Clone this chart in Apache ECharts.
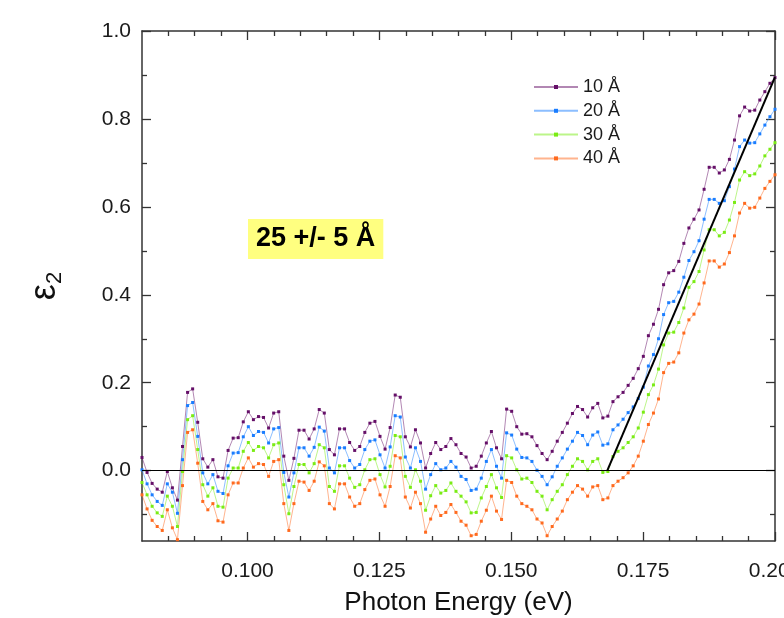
<!DOCTYPE html>
<html>
<head>
<meta charset="utf-8">
<title>eps2 vs photon energy</title>
<script src="https://cdn.jsdelivr.net/npm/echarts@6/dist/echarts.min.js"></script>
<style>html,body{margin:0;padding:0;background:#fff;}</style>
</head>
<body>
<div id="chart" style="width:784px;height:618px;"></div>
<script>
// photon energy grid (eV)
var energy = [
    0.08000, 0.08096, 0.08192, 0.08288, 0.08384, 0.08480, 0.08576, 0.08672, 0.08768, 0.08864,
    0.08960, 0.09056, 0.09152, 0.09248, 0.09344, 0.09440, 0.09536, 0.09632, 0.09728, 0.09824,
    0.09920, 0.10016, 0.10112, 0.10208, 0.10304, 0.10400, 0.10496, 0.10592, 0.10688, 0.10784,
    0.10880, 0.10976, 0.11072, 0.11168, 0.11264, 0.11360, 0.11456, 0.11552, 0.11648, 0.11744,
    0.11840, 0.11936, 0.12032, 0.12128, 0.12224, 0.12320, 0.12416, 0.12512, 0.12608, 0.12704,
    0.12800, 0.12896, 0.12992, 0.13088, 0.13184, 0.13280, 0.13376, 0.13472, 0.13568, 0.13664,
    0.13760, 0.13856, 0.13952, 0.14048, 0.14144, 0.14240, 0.14336, 0.14432, 0.14528, 0.14624,
    0.14720, 0.14816, 0.14912, 0.15008, 0.15104, 0.15200, 0.15296, 0.15392, 0.15488, 0.15584,
    0.15680, 0.15776, 0.15872, 0.15968, 0.16064, 0.16160, 0.16256, 0.16352, 0.16448, 0.16544,
    0.16640, 0.16736, 0.16832, 0.16928, 0.17024, 0.17120, 0.17216, 0.17312, 0.17408, 0.17504,
    0.17600, 0.17696, 0.17792, 0.17888, 0.17984, 0.18080, 0.18176, 0.18272, 0.18368, 0.18464,
    0.18560, 0.18656, 0.18752, 0.18848, 0.18944, 0.19040, 0.19136, 0.19232, 0.19328, 0.19424,
    0.19520, 0.19616, 0.19712, 0.19808, 0.19904, 0.20000
];

var eps10 = [
    0.030, -0.004, -0.029, -0.042, -0.049, -0.002, -0.039, -0.067, 0.055, 0.178,
    0.186, 0.110, 0.027, 0.008, 0.025, -0.014, -0.017, 0.046, 0.074, 0.075,
    0.111, 0.134, 0.116, 0.123, 0.121, 0.097, 0.131, 0.134, 0.033, -0.022,
    0.028, 0.092, 0.092, 0.072, 0.095, 0.139, 0.131, 0.048, 0.036, 0.095,
    0.095, 0.064, 0.046, 0.055, 0.087, 0.108, 0.112, 0.078, 0.049, 0.098,
    0.172, 0.167, 0.077, 0.054, 0.093, 0.063, 0.006, 0.039, 0.064, 0.048,
    0.055, 0.073, 0.059, 0.039, 0.031, 0.006, 0.010, 0.033, 0.063, 0.089,
    0.052, 0.027, 0.140, 0.135, 0.100, 0.083, 0.084, 0.077, 0.057, 0.039,
    0.025, 0.044, 0.067, 0.087, 0.108, 0.130, 0.146, 0.139, 0.122, 0.143,
    0.153, 0.120, 0.124, 0.157, 0.168, 0.178, 0.194, 0.210, 0.232, 0.260,
    0.307, 0.333, 0.367, 0.423, 0.450, 0.455, 0.476, 0.517, 0.552, 0.572,
    0.593, 0.640, 0.690, 0.690, 0.677, 0.684, 0.708, 0.752, 0.807, 0.827,
    0.818, 0.820, 0.843, 0.862, 0.881, 0.894
];

var eps20 = [
    0.002, -0.030, -0.055, -0.070, -0.079, -0.030, -0.049, -0.097, 0.025, 0.148,
    0.155, 0.078, -0.005, -0.030, -0.009, -0.047, -0.052, 0.011, 0.040, 0.041,
    0.077, 0.100, 0.080, 0.089, 0.087, 0.063, 0.095, 0.098, -0.004, -0.060,
    -0.005, 0.052, 0.052, 0.033, 0.053, 0.099, 0.090, 0.006, -0.005, 0.052,
    0.052, 0.023, 0.006, 0.014, 0.048, 0.067, 0.070, 0.036, 0.006, 0.054,
    0.125, 0.122, 0.031, 0.006, 0.052, 0.021, -0.042, -0.009, 0.016, 0.002,
    0.006, 0.021, 0.008, -0.013, -0.020, -0.045, -0.042, -0.017, 0.021, 0.048,
    0.010, -0.017, 0.086, 0.081, 0.049, 0.030, 0.029, 0.021, 0.001, -0.013,
    -0.032, -0.014, 0.010, 0.029, 0.049, 0.067, 0.087, 0.080, 0.059, 0.081,
    0.088, 0.058, 0.061, 0.093, 0.104, 0.117, 0.132, 0.145, 0.164, 0.190,
    0.238, 0.264, 0.300, 0.355, 0.382, 0.385, 0.406, 0.440, 0.478, 0.498,
    0.523, 0.572, 0.617, 0.617, 0.608, 0.614, 0.646, 0.686, 0.737, 0.752,
    0.745, 0.746, 0.766, 0.786, 0.805, 0.822
];

var eps30 = [
    -0.027, -0.055, -0.081, -0.096, -0.104, -0.058, -0.081, -0.127, -0.002, 0.116,
    0.125, 0.048, -0.032, -0.058, -0.039, -0.081, -0.083, -0.017, 0.006, 0.006,
    0.044, 0.064, 0.046, 0.055, 0.052, 0.029, 0.059, 0.063, -0.032, -0.098,
    -0.036, 0.014, 0.014, -0.005, 0.016, 0.059, 0.052, -0.036, -0.047, 0.011,
    0.011, -0.017, -0.038, -0.032, 0.002, 0.025, 0.027, -0.009, -0.037, 0.010,
    0.080, 0.077, -0.013, -0.038, 0.002, -0.024, -0.090, -0.057, -0.034, -0.051,
    -0.045, -0.028, -0.047, -0.058, -0.071, -0.096, -0.095, -0.062, -0.036, -0.009,
    -0.039, -0.061, 0.034, 0.029, 0.002, -0.019, -0.017, -0.027, -0.047, -0.058,
    -0.089, -0.066, -0.047, -0.032, -0.009, 0.010, 0.027, 0.021, 0.002, 0.021,
    0.027, -0.004, -0.002, 0.032, 0.044, 0.052, 0.064, 0.077, 0.097, 0.133,
    0.173, 0.195, 0.231, 0.286, 0.313, 0.315, 0.337, 0.370, 0.417, 0.430,
    0.453, 0.502, 0.548, 0.548, 0.534, 0.542, 0.570, 0.610, 0.661, 0.680,
    0.671, 0.675, 0.693, 0.716, 0.731, 0.746
];

var eps40 = [
    -0.055, -0.087, -0.113, -0.127, -0.136, -0.089, -0.130, -0.157, -0.034, 0.087,
    0.093, 0.017, -0.070, -0.089, -0.075, -0.114, -0.117, -0.055, -0.028, -0.028,
    0.006, 0.029, 0.008, 0.016, 0.014, -0.013, 0.021, 0.025, -0.075, -0.136,
    -0.075, -0.024, -0.026, -0.045, -0.024, 0.020, 0.011, -0.075, -0.087, -0.030,
    -0.030, -0.060, -0.081, -0.075, -0.043, -0.022, -0.019, -0.055, -0.081, -0.036,
    0.034, 0.029, -0.060, -0.085, -0.049, -0.075, -0.140, -0.110, -0.081, -0.102,
    -0.095, -0.077, -0.095, -0.115, -0.124, -0.148, -0.145, -0.115, -0.090, -0.058,
    -0.092, -0.111, -0.022, -0.027, -0.058, -0.075, -0.081, -0.089, -0.110, -0.119,
    -0.148, -0.127, -0.110, -0.092, -0.066, -0.049, -0.034, -0.042, -0.058, -0.037,
    -0.034, -0.066, -0.062, -0.034, -0.024, -0.016, -0.005, 0.011, 0.033, 0.067,
    0.105, 0.131, 0.163, 0.223, 0.244, 0.247, 0.268, 0.313, 0.343, 0.356,
    0.379, 0.427, 0.477, 0.477, 0.463, 0.470, 0.496, 0.534, 0.586, 0.608,
    0.597, 0.599, 0.620, 0.642, 0.658, 0.673
];

// linear onset fit (start on zero line, end at right edge)
var fitLine = [[0.1682, 0.0], [0.2000, 0.895]];

var seriesNames = ['10 Å', '20 Å', '30 Å', '40 Å'];
var seriesColors = ['#650f68', '#1a7dff', '#7aec14', '#ff6a1e'];

var xMajor = [0.100, 0.125, 0.150, 0.175, 0.200];
var xMinor = [0.085, 0.090, 0.095, 0.105, 0.110, 0.115, 0.120, 0.130, 0.135, 0.140,
              0.145, 0.155, 0.160, 0.165, 0.170, 0.180, 0.185, 0.190, 0.195];
var yMajor = [0.0, 0.2, 0.4, 0.6, 0.8, 1.0];
var yMinor = [-0.1, 0.1, 0.3, 0.5, 0.7, 0.9];

var FONT = "'Liberation Sans', Arial, sans-serif";
var AXIS_COLOR = '#333';

function pairs(ys) {
    return ys.map(function (v, i) { return [energy[i], v]; });
}

function xAx(pos, ticks, len, withLine, withLabel) {
    return {
        type: 'value', position: pos, min: 0.08, max: 0.2,
        axisLine: { show: withLine, onZero: false, lineStyle: { color: AXIS_COLOR, width: 1.5 } },
        axisTick: { show: true, inside: true, length: len, customValues: ticks,
                    lineStyle: { color: AXIS_COLOR, width: 1.3 } },
        axisLabel: withLabel ? {
            show: true, customValues: xMajor, margin: 20,
            fontFamily: FONT, fontSize: 21, color: '#1a1a1a',
            formatter: function (v) { return v.toFixed(3); }
        } : { show: false },
        splitLine: { show: false }
    };
}

function yAx(pos, ticks, len, withLine, withLabel) {
    return {
        type: 'value', position: pos, min: -0.16, max: 1.0,
        axisLine: { show: withLine, onZero: false, lineStyle: { color: AXIS_COLOR, width: 1.5 } },
        axisTick: { show: true, inside: true, length: len, customValues: ticks,
                    lineStyle: { color: AXIS_COLOR, width: 1.3 } },
        axisLabel: withLabel ? {
            show: true, customValues: yMajor, margin: 11,
            fontFamily: FONT, fontSize: 21, color: '#1a1a1a',
            formatter: function (v) { return v.toFixed(1); }
        } : { show: false },
        splitLine: { show: false }
    };
}

var xAxes = [
    xAx('bottom', xMajor, 9, true, true),
    xAx('bottom', xMinor, 5, false, false),
    xAx('top', xMajor, 9, true, false),
    xAx('top', xMinor, 5, false, false)
];
xAxes[0].name = 'Photon Energy (eV)';
xAxes[0].nameLocation = 'middle';
xAxes[0].nameGap = 49;
xAxes[0].nameTextStyle = { fontFamily: FONT, fontSize: 26, color: '#111' };

var yAxes = [
    yAx('left', yMajor, 9, true, true),
    yAx('left', yMinor, 5, false, false),
    yAx('right', yMajor, 9, true, false),
    yAx('right', yMinor, 5, false, false)
];
yAxes[0].name = '{e|ε}{s|2}';
yAxes[0].nameLocation = 'middle';
yAxes[0].nameGap = 76;
yAxes[0].nameTextStyle = {
    rich: {
        e: { fontFamily: FONT, fontSize: 36, color: '#111' },
        s: { fontFamily: FONT, fontSize: 22, color: '#111', padding: [20, 0, 0, 0] }
    }
};

var dataSets = [eps10, eps20, eps30, eps40];
var series = dataSets.map(function (ys, k) {
    return {
        name: seriesNames[k],
        type: 'line',
        data: pairs(ys),
        symbol: 'rect',
        symbolSize: 3,
        showSymbol: true,
        showAllSymbol: true,
        itemStyle: { color: seriesColors[k] },
        lineStyle: { color: seriesColors[k], width: 1, opacity: 0.5 },
        z: 3
    };
});

series.push({
    name: 'fit',
    type: 'line',
    data: fitLine,
    symbol: 'none',
    lineStyle: { color: '#000', width: 2 },
    z: 5,
    markLine: {
        silent: true,
        symbol: 'none',
        label: { show: false },
        lineStyle: { color: '#000', width: 1.2, type: 'solid' },
        data: [{ yAxis: 0 }]
    }
});

var chart = echarts.init(document.getElementById('chart'));
chart.setOption({
    animation: false,
    backgroundColor: '#fff',
    grid: { left: 142, right: 9, top: 31, bottom: 77, containLabel: false, outerBoundsMode: 'none' },
    title: {
        text: '25 +/- 5 Å',
        left: 248, top: 219,
        backgroundColor: '#ffff80',
        padding: [6, 8, 6, 8],
        textStyle: { fontFamily: FONT, fontSize: 27, fontWeight: 'bold', color: '#000', lineHeight: 28 }
    },
    legend: {
        data: seriesNames,
        orient: 'vertical',
        left: 533, top: 78,
        padding: 0,
        itemWidth: 44, itemHeight: 5, itemGap: 5.8,
        textStyle: { fontFamily: FONT, fontSize: 18, color: '#1a1a1a', lineHeight: 18 }
    },
    xAxis: xAxes,
    yAxis: yAxes,
    series: series
});
</script>
</body>
</html>
